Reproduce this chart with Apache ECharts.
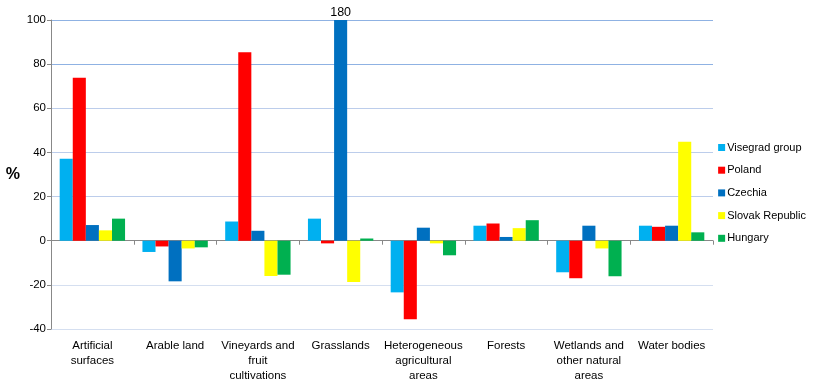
<!DOCTYPE html>
<html><head><meta charset="utf-8">
<script src="https://cdn.jsdelivr.net/npm/echarts@6/dist/echarts.min.js"></script>
<style>html,body{margin:0;padding:0;background:#fff}#c{width:815px;height:385px}</style>
</head><body><div id="c"></div>
<script>
const categories = ["Artificial\nsurfaces","Arable land","Vineyards and\nfruit\ncultivations","Grasslands","Heterogeneous\nagricultural\nareas","Forests","Wetlands and\nother natural\nareas","Water bodies"];
const seriesNames = ["Visegrad group","Poland","Czechia","Slovak Republic","Hungary"];
const visegrad = [37.1,-5.1,8.7,10.0,-23.4,6.8,-14.3,6.8];
const poland   = [73.8,-2.6,85.4,-1.2,-35.6,7.8,-17.0,6.3];
const czechia  = [7.1,-18.4,4.5,180,5.9,1.7,6.8,6.8];
const slovak   = [4.7,-3.5,-16.0,-18.7,-1.2,5.7,-3.5,44.8];
const hungary  = [10.0,-3.0,-15.4,1.0,-6.6,9.3,-16.1,3.8];
const colors = ["#00B0F0","#FF0000","#0070C0","#FFFF00","#00B050"];
const yMin = -40, yMax = 100, yStep = 20;

const allData = [visegrad, poland, czechia, slovak, hungary];
const font = "'Liberation Sans', Arial, sans-serif";
const chart = echarts.init(document.getElementById('c'));
chart.setOption({
  animation:false,
  textStyle:{fontFamily:font},
  grid:{left:51,right:102,top:20,bottom:56,containLabel:false},
  legend:{
    orient:'vertical', right:4, top:137, itemWidth:7, itemHeight:7, itemGap:11.7,
    icon:'rect', data:seriesNames,
    textStyle:{fontSize:11,color:'#000',fontFamily:font,padding:[0,0,0,-3]}, itemStyle:{borderWidth:0}
  },
  xAxis:{
    type:'category', data:categories,
    axisLine:{onZero:true,lineStyle:{color:'#888',width:1}},
    axisTick:{show:true,length:4,lineStyle:{color:'#888'}},
    axisLabel:{interval:0,color:'#000',fontSize:11.5,lineHeight:15,margin:9},
    position:'bottom'
  },
  yAxis:{
    type:'value', min:yMin, max:yMax, interval:yStep,
    name:'%', nameLocation:'middle', nameRotate:0, nameGap:31,
    nameTextStyle:{fontSize:16,color:'#000',fontWeight:'bold',padding:[6,0,0,0]},
    axisLine:{show:true,lineStyle:{color:'#888'}},
    axisTick:{show:true,length:4,lineStyle:{color:'#888'}},
    axisLabel:{color:'#000',fontSize:11.5,margin:5},
    splitLine:{lineStyle:{color:['#D5DFF0','#D5DFF0','#C0D0EA','#BCCDEB','#BCCDEB','#BCCDEB','#8FB2E3','#8FB2E3'],width:1}}
  },
  series: allData.map((arr,i)=>({
    name:seriesNames[i], type:'bar',
    barGap:'0%', barCategoryGap:'21%',
    itemStyle:{color:colors[i]},
    data: arr.map(v => v > yMax ? {value:yMax, label:{show:true,position:'top',distance:1,color:'#000',fontSize:12.5,formatter:String(v)}} : v)
  }))
});
</script></body></html>
